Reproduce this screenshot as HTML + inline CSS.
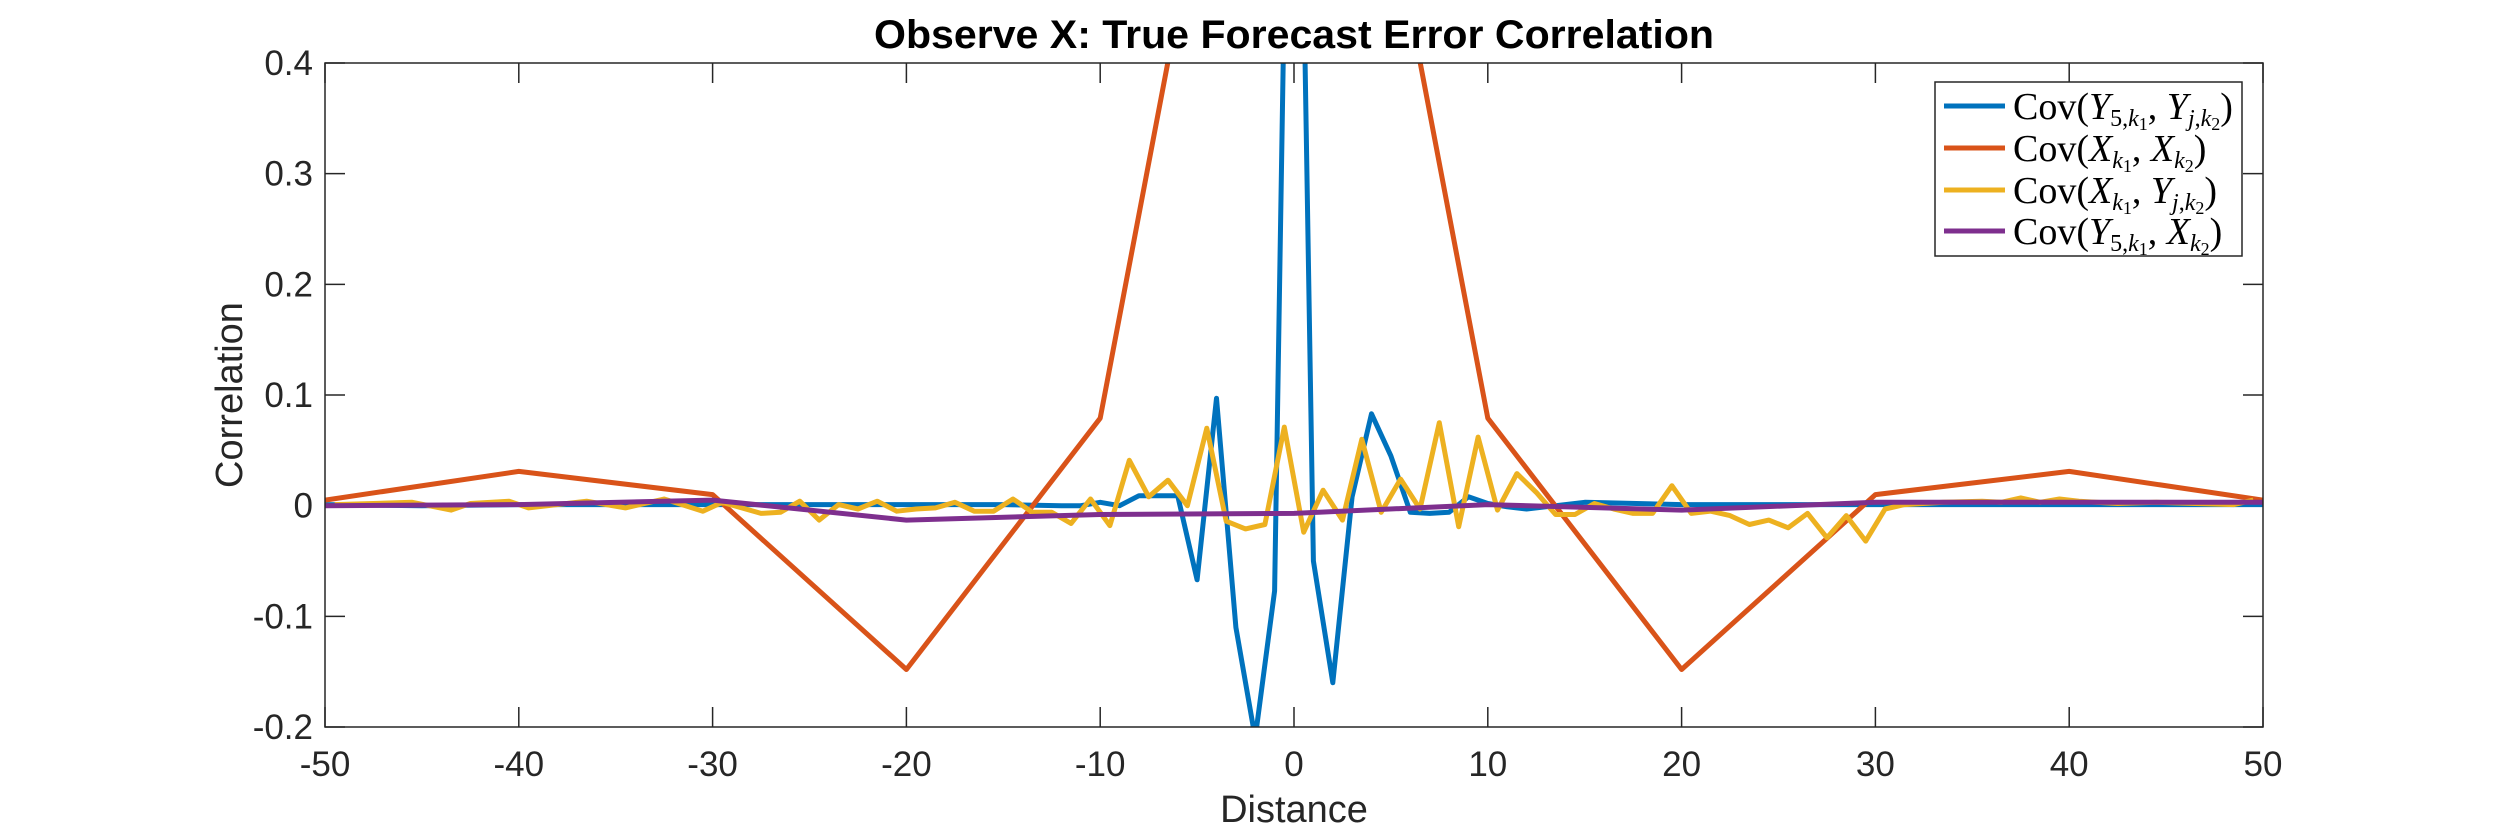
<!DOCTYPE html>
<html><head><meta charset="utf-8"><style>
html,body{margin:0;padding:0;background:#fff;}
svg{display:block;}
</style></head><body>
<svg id="chart" width="2500" height="833" viewBox="0 0 2500 833" xmlns="http://www.w3.org/2000/svg">
<defs><clipPath id="clip"><rect x="325" y="63" width="1938" height="664"/></clipPath></defs>
<rect x="0" y="0" width="2500" height="833" fill="#fff"/>
<text x="1294" y="48" text-anchor="middle" font-family="Liberation Sans, sans-serif" font-weight="bold" font-size="40" textLength="840" lengthAdjust="spacingAndGlyphs" fill="#000">Observe X: True Forecast Error Correlation</text>
<g id="grid-ticks"></g>
<g id="series" clip-path="url(#clip)"></g>
<rect x="325" y="63" width="1938" height="664" fill="none" stroke="#262626" stroke-width="1.5"/>
<text x="1294" y="822" text-anchor="middle" font-family="Liberation Sans, sans-serif" font-size="38" fill="#262626">Distance</text>
<text x="0" y="0" transform="translate(242,395) rotate(-90)" text-anchor="middle" font-family="Liberation Sans, sans-serif" font-size="38" fill="#262626">Correlation</text>
<g font-family="Liberation Serif, serif" font-size="38" fill="#000">
<rect x="1935" y="82" width="307" height="174" fill="#fff" stroke="#262626" stroke-width="1.5"/>
<line x1="1944" y1="106" x2="2005" y2="106" stroke="#0072BD" stroke-width="5"/>
<text x="2013" y="119">Cov(<tspan font-style="italic">Y</tspan><tspan font-size="24" dy="7">5,<tspan font-style="italic">k</tspan><tspan font-size="18" dy="4">1</tspan></tspan><tspan dy="-11">, </tspan><tspan font-style="italic">Y</tspan><tspan font-size="24" dy="7"><tspan font-style="italic">j</tspan>,<tspan font-style="italic">k</tspan><tspan font-size="18" dy="4">2</tspan></tspan><tspan dy="-11">)</tspan></text>
<line x1="1944" y1="148" x2="2005" y2="148" stroke="#D95319" stroke-width="5"/>
<text x="2013" y="161">Cov(<tspan font-style="italic">X</tspan><tspan font-size="24" dy="7" font-style="italic">k</tspan><tspan font-size="18" dy="4">1</tspan><tspan dy="-11">, </tspan><tspan font-style="italic">X</tspan><tspan font-size="24" dy="7" font-style="italic">k</tspan><tspan font-size="18" dy="4">2</tspan><tspan dy="-11">)</tspan></text>
<line x1="1944" y1="190" x2="2005" y2="190" stroke="#EDB120" stroke-width="5"/>
<text x="2013" y="203">Cov(<tspan font-style="italic">X</tspan><tspan font-size="24" dy="7" font-style="italic">k</tspan><tspan font-size="18" dy="4">1</tspan><tspan dy="-11">, </tspan><tspan font-style="italic">Y</tspan><tspan font-size="24" dy="7"><tspan font-style="italic">j</tspan>,<tspan font-style="italic">k</tspan><tspan font-size="18" dy="4">2</tspan></tspan><tspan dy="-11">)</tspan></text>
<line x1="1944" y1="231" x2="2005" y2="231" stroke="#7E2F8E" stroke-width="5"/>
<text x="2013" y="244">Cov(<tspan font-style="italic">Y</tspan><tspan font-size="24" dy="7">5,<tspan font-style="italic">k</tspan><tspan font-size="18" dy="4">1</tspan></tspan><tspan dy="-11">, </tspan><tspan font-style="italic">X</tspan><tspan font-size="24" dy="7" font-style="italic">k</tspan><tspan font-size="18" dy="4">2</tspan><tspan dy="-11">)</tspan></text>
</g>
</svg>
<script>
const xTicks = [-50,-40,-30,-20,-10,0,10,20,30,40,50];
const yTicks = [-0.2,-0.1,0,0.1,0.2,0.3,0.4];
const yTickLabels = ["-0.2","-0.1","0","0.1","0.2","0.3","0.4"];

const blueX = [-50,-45,-40,-35,-30,-25,-20,-15,-12,-11,-10,-9,-8,-7,-6,-5,-4,-3,-2,-1,0,1,2,3,4,5,6,7,8,9,10,11,12,13,14,15,20,30,40,50];
const blueY = [0.001,0.0,0.001,0.001,0.001,0.001,0.001,0.001,0.0,0.0,0.003,0.0,0.009,0.009,0.009,-0.067,0.097,-0.11,-0.21,-0.077,1.0,-0.05,-0.16,0.008,0.083,0.045,-0.006,-0.007,-0.006,0.008,0.002,-0.001,-0.003,-0.001,0.001,0.003,0.001,0.001,0.001,0.001];

const redX = [-50,-40,-30,-20,-10,0,10,20,30,40,50];
const redY = [0.005,0.031,0.01,-0.148,0.079,1.0,0.079,-0.148,0.01,0.031,0.005];

const yellowX = [-49.5,-47.5,-45.5,-43.5,-42.5,-40.5,-39.5,-36.5,-34.5,-32.5,-30.5,-29.5,-27.5,-26.5,-25.5,-24.5,-23.5,-22.5,-21.5,-20.5,-19.5,-18.5,-17.5,-16.5,-15.5,-14.5,-13.5,-12.5,-11.5,-10.5,-9.5,-8.5,-7.5,-6.5,-5.5,-4.5,-3.5,-2.5,-1.5,-0.5,0.5,1.5,2.5,3.5,4.5,5.5,6.5,7.5,8.5,9.5,10.5,11.5,12.5,13.5,14.5,15.5,16.5,17.5,18.5,19.5,20.5,21.5,22.5,23.5,24.5,25.5,26.5,27.5,28.5,29.5,30.5,31.5,33.5,35.5,36.5,37.5,38.5,39.5,40.5,42.5,44.5,46.5,48.5,49.5];
const yellowY = [0.001,0.002,0.003,-0.004,0.002,0.004,-0.002,0.004,-0.002,0.006,-0.005,0.003,-0.007,-0.006,0.004,-0.013,0.001,-0.003,0.004,-0.005,-0.003,-0.002,0.003,-0.005,-0.005,0.006,-0.006,-0.006,-0.016,0.006,-0.018,0.041,0.008,0.023,0.0,0.07,-0.014,-0.021,-0.017,0.071,-0.024,0.014,-0.013,0.06,-0.006,0.024,-0.003,0.075,-0.019,0.062,-0.004,0.029,0.012,-0.008,-0.008,0.002,-0.003,-0.007,-0.007,0.018,-0.007,-0.005,-0.009,-0.017,-0.013,-0.02,-0.007,-0.029,-0.009,-0.032,-0.003,0.001,0.003,0.004,0.003,0.007,0.003,0.006,0.004,0.002,0.003,0.002,0.001,0.005];

const purpleX = [-50,-40,-30,-20,-10,0,10,20,30,40,50];
const purpleY = [0.0,0.001,0.005,-0.013,-0.008,-0.007,0.001,-0.004,0.003,0.003,0.003];

const NS = "http://www.w3.org/2000/svg";
const X0 = 325, X1 = 2263, Y0 = 727, Y1 = 63;
function xs(v){ return X0 + (v - (-50)) / 100 * (X1 - X0); }
function ys(v){ return Y0 - (v - (-0.2)) / 0.6 * (Y0 - Y1); }

const tickG = document.getElementById('grid-ticks');
xTicks.forEach(function(t){
  const x = xs(t);
  const l1 = document.createElementNS(NS,'line');
  l1.setAttribute('x1',x); l1.setAttribute('x2',x); l1.setAttribute('y1',Y0); l1.setAttribute('y2',Y0-20);
  l1.setAttribute('stroke','#262626'); l1.setAttribute('stroke-width','1.5');
  
  
  tickG.appendChild(l1);
  const l2 = document.createElementNS(NS,'line');
  l2.setAttribute('x1',x); l2.setAttribute('x2',x); l2.setAttribute('y1',Y1); l2.setAttribute('y2',Y1+20);
  l2.setAttribute('stroke','#262626'); l2.setAttribute('stroke-width','1.5');
  
  
  tickG.appendChild(l2);
  const tx = document.createElementNS(NS,'text');
  tx.setAttribute('x',x); tx.setAttribute('y',776);
  tx.setAttribute('text-anchor','middle');
  tx.setAttribute('font-family','Liberation Sans, sans-serif');
  tx.setAttribute('font-size','35'); tx.setAttribute('fill','#262626');
  tx.textContent = String(t);
  
  
  tickG.appendChild(tx);
});
yTicks.forEach(function(t,i){
  const y = ys(t);
  const l1 = document.createElementNS(NS,'line');
  l1.setAttribute('x1',X0); l1.setAttribute('x2',X0+20); l1.setAttribute('y1',y); l1.setAttribute('y2',y);
  l1.setAttribute('stroke','#262626'); l1.setAttribute('stroke-width','1.5');
  
  
  tickG.appendChild(l1);
  const l2 = document.createElementNS(NS,'line');
  l2.setAttribute('x1',X1); l2.setAttribute('x2',X1-20); l2.setAttribute('y1',y); l2.setAttribute('y2',y);
  l2.setAttribute('stroke','#262626'); l2.setAttribute('stroke-width','1.5');
  
  
  tickG.appendChild(l2);
  const tx = document.createElementNS(NS,'text');
  tx.setAttribute('x',X0-12); tx.setAttribute('y',y+12);
  tx.setAttribute('text-anchor','end');
  tx.setAttribute('font-family','Liberation Sans, sans-serif');
  tx.setAttribute('font-size','35'); tx.setAttribute('fill','#262626');
  tx.textContent = yTickLabels[i];
  
  
  tickG.appendChild(tx);
});

const seriesG = document.getElementById('series');
function drawLine(xa, ya, color, name){
  const pts = xa.map(function(x,i){ return xs(x).toFixed(1)+','+ys(ya[i]).toFixed(1); }).join(' ');
  const p = document.createElementNS(NS,'polyline');
  p.setAttribute('points',pts);
  p.setAttribute('fill','none');
  p.setAttribute('stroke',color);
  p.setAttribute('stroke-width','5');
  p.setAttribute('stroke-linejoin','round');
  
  
  seriesG.appendChild(p);
}
drawLine(blueX, blueY, '#0072BD', 'series-cov-y5-yj');
drawLine(redX, redY, '#D95319', 'series-cov-x-x');
drawLine(yellowX, yellowY, '#EDB120', 'series-cov-x-yj');
drawLine(purpleX, purpleY, '#7E2F8E', 'series-cov-y5-x');
</script>
</body></html>
